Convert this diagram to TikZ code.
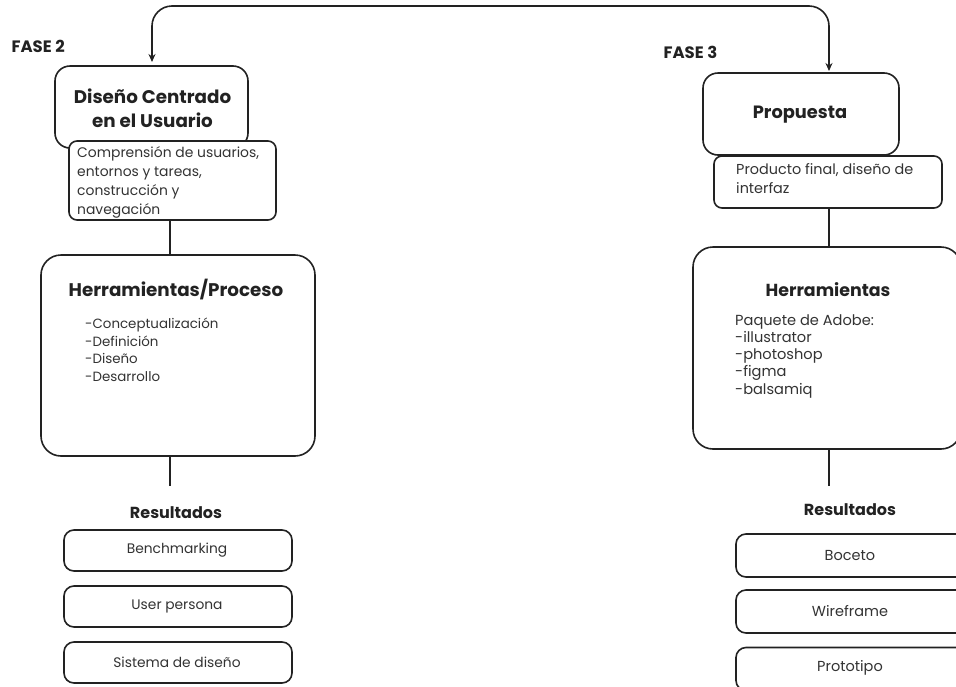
\documentclass[tikz,border=0pt]{standalone}
\usepackage{fontspec}
\setmainfont{Poppins}
\usetikzlibrary{arrows.meta,calc}
\definecolor{ink}{HTML}{222222}
\definecolor{txt}{HTML}{333333}
\tikzset{
  box/.style={draw=ink, line width=1.6pt, fill=white, rounded corners=#1, inner sep=0pt},
  box/.default=14pt,
  conn/.style={draw=ink, line width=1.6pt},
  ttl/.style={font=\fontsize{18.3}{24}\selectfont\bfseries, text=ink},
  body/.style={font=\fontsize{13.4}{17.5}\selectfont, text=txt, align=left, inner sep=0pt},
  fase/.style={font=\fontsize{16.5}{18}\selectfont\bfseries, text=ink},
  res/.style={font=\fontsize{16}{18}\selectfont\bfseries, text=ink},
}
\begin{document}
\begin{tikzpicture}[x=1pt,y=-1pt]
\useasboundingbox (0,0) rectangle (956,686);
\clip (0,0) rectangle (956,686);
\fill[white] (0,0) rectangle (956,686);

% ---------- left column (FASE 2) ----------
\node[fase, anchor=west] (f2) at (8,46) {FASE 2};
\node[box=15pt, minimum width=193pt, minimum height=82pt] (dcu) at (151.5,107) {};
\node[ttl, align=center] (dcut) at (152.5,108) {Diseño Centrado\\en el Usuario};
\node[box=8pt, minimum width=207pt, minimum height=79pt] (sub1) at (172.5,180.5) {};
\node[body, anchor=north west, font=\fontsize{13.9}{19}\selectfont] (sub1t) at (77,146) {Comprensión de usuarios,\\entornos y tareas,\\construcción y\\navegación};

\node[box=20pt, minimum width=274pt, minimum height=201pt] (herr1) at (178,355.5) {};
\node[ttl] (herr1t) at (176,290) {Herramientas/Proceso};
\node[body, anchor=north west] (herr1l) at (85,318) {-Conceptualización\\-Definición\\-Diseño\\-Desarrollo};

\node[res] (res1) at (176,513) {Resultados};
\node[box=10pt, minimum width=228pt, minimum height=41pt] (b1) at (178,550.5) {};
\node[body, font=\fontsize{13.8}{16}\selectfont] at (177,550.5) {Benchmarking};
\node[box=10pt, minimum width=228pt, minimum height=41pt] (b2) at (178,606.5) {};
\node[body, font=\fontsize{13.8}{16}\selectfont] at (177,606.5) {User persona};
\node[box=10pt, minimum width=228pt, minimum height=41pt] (b3) at (178,662.5) {};
\node[body, font=\fontsize{13.8}{16}\selectfont] at (177,662.5) {Sistema de diseño};

\coordinate (l1a) at (170,220);
\coordinate (l1b) at (170,255);
\coordinate (l2a) at (170,456);
\coordinate (l2b) at (170,486);
\draw[conn] (l1a) -- (l1b);
\draw[conn] (l2a) -- (l2b);

% ---------- right column (FASE 3) ----------
\node[fase, anchor=west] (f3) at (660,52) {FASE 3};
\node[box=15pt, minimum width=196pt, minimum height=82pt] (prop) at (801,114) {};
\node[ttl, font=\fontsize{17.8}{20}\selectfont\bfseries] (propt) at (800,115) {Propuesta};
\node[box=8pt, minimum width=228pt, minimum height=52pt] (sub2) at (828,182) {};
\node[body, anchor=north west, font=\fontsize{14.4}{19}\selectfont] (sub2t) at (736,163) {Producto final, diseño de\\interfaz};

\node[box=20pt, minimum width=268pt, minimum height=202pt] (herr2) at (827,348) {};
\node[ttl, font=\fontsize{17.4}{20}\selectfont\bfseries] (herr2t) at (828,290) {Herramientas};
\node[body, anchor=north west, font=\fontsize{14.6}{17.3}\selectfont] (herr2l) at (735,314) {Paquete de Adobe:\\-illustrator\\-photoshop\\-figma\\-balsamiq};

\node[res] (res2) at (850,510) {Resultados};
\node[box=10pt, minimum width=240pt, minimum height=43pt] (c1) at (856,555.5) {};
\node[body, font=\fontsize{14.5}{16}\selectfont] at (850,556) {Boceto};
\node[box=10pt, minimum width=240pt, minimum height=43pt] (c2) at (856,611.5) {};
\node[body, font=\fontsize{14.5}{16}\selectfont] at (850,611) {Wireframe};
\node[box=10pt, minimum width=240pt, minimum height=43pt] (c3) at (856,669) {};
\node[body, font=\fontsize{14.5}{16}\selectfont] at (850,668) {Prototipo};

\coordinate (r1a) at (829,208);
\coordinate (r1b) at (829,247);
\coordinate (r2a) at (829,449);
\coordinate (r2b) at (829,486);
\draw[conn] (r1a) -- (r1b);
\draw[conn] (r2a) -- (r2b);

% ---------- top connector ----------
\coordinate (ta) at (152,62);
\coordinate (tb) at (829,71);
\draw[conn, rounded corners=20pt, {Stealth[length=8pt,width=7pt]}-{Stealth[length=8pt,width=7pt]}]
  (ta) -- (152,6) -- (829,6) -- (tb);
\end{tikzpicture}
\end{document}
